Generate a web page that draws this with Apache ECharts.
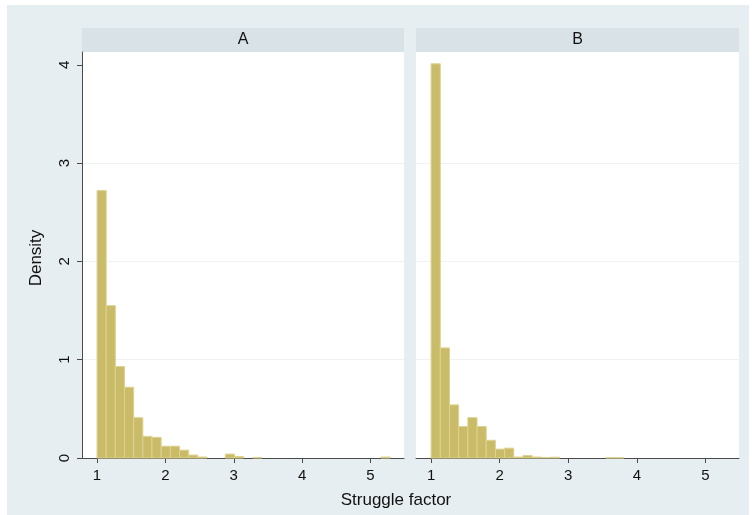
<!DOCTYPE html>
<html>
<head>
<meta charset="utf-8">
<script src="https://cdn.jsdelivr.net/npm/echarts@6/dist/echarts.min.js"></script>
<style>
html,body{margin:0;padding:0;background:#fff;}
#c{width:752px;height:515px;}
</style>
</head>
<body>
<div id="c"></div>
<script>
// ---- data ----
const panels = ['A', 'B'];
const binStart = 1.0;
const binWidth = 0.134;
const densityA = [2.72, 1.55, 0.93, 0.72, 0.41, 0.22, 0.21, 0.12, 0.12, 0.08, 0.03, 0.01, 0, 0, 0.04, 0.015, 0, 0.005, 0, 0, 0, 0, 0, 0, 0, 0, 0, 0, 0, 0, 0, 0.01];
const densityB = [4.01, 1.12, 0.54, 0.32, 0.41, 0.32, 0.18, 0.09, 0.10, 0.01, 0.025, 0.01, 0.005, 0.008, 0, 0, 0, 0, 0, 0.003, 0.003];
const xTicks = [1, 2, 3, 4, 5];
const yTicks = [0, 1, 2, 3, 4];
const xTitle = 'Struggle factor';
const yTitle = 'Density';

// ---- chart ----
const FONT = "'Liberation Sans', Arial, Helvetica, sans-serif";
const chart = echarts.init(document.getElementById('c'), null, {renderer: 'canvas'});

function toBins(vals) {
  return vals.map((v, i) => [binStart + i * binWidth, binStart + (i + 1) * binWidth, v]);
}

function renderItem(params, api) {
  const x0 = api.value(0), x1 = api.value(1), h = api.value(2);
  if (!h) return null;
  const p0 = api.coord([x0, h]);
  const p1 = api.coord([x1, 0]);
  return {
    type: 'rect',
    shape: {x: p0[0], y: p0[1], width: p1[0] - p0[0], height: p1[1] - p0[1]},
    style: {fill: '#c9bb68', stroke: '#ddd390', lineWidth: 1}
  };
}

const grids = [
  {left: 82, width: 322, top: 52, bottom: 57},
  {left: 416, width: 323, top: 52, bottom: 57}
];

const axisColor = '#4a4a4a';

const xAxes = grids.map((g, i) => ({
  type: 'value', gridIndex: i, min: 0.78, max: 5.49,
  axisLine: {show: true, lineStyle: {color: axisColor, width: 1}},
  axisTick: {show: true, customValues: xTicks, length: 5, lineStyle: {color: axisColor}},
  axisLabel: {show: true, customValues: xTicks, margin: 10, color: '#111', fontSize: 15, fontFamily: FONT},
  splitLine: {show: false}
}));

const yAxes = grids.map((g, i) => ({
  type: 'value', gridIndex: i, min: 0, max: 4.13, interval: 1,
  axisLine: {show: i === 0, lineStyle: {color: axisColor, width: 1}},
  axisTick: {show: i === 0, customValues: yTicks, length: 5, lineStyle: {color: axisColor}},
  axisLabel: {show: i === 0, customValues: yTicks, rotate: 90, margin: 10, color: '#111', fontSize: 15, fontFamily: FONT},
  splitLine: {show: true, showMinLine: false, showMaxLine: false, lineStyle: {color: '#eef2f4', width: 1}}
}));

const series = [densityA, densityB].map((vals, i) => ({
  type: 'custom', xAxisIndex: i, yAxisIndex: i,
  renderItem: renderItem,
  encode: {x: [0, 1], y: 2},
  data: toBins(vals)
}));

const graphic = [
  {type: 'rect', z: -10, silent: true, shape: {x: 7, y: 5, width: 742, height: 510}, style: {fill: '#e7eef1'}},
];
grids.forEach((g, i) => {
  graphic.push({type: 'rect', z: -5, silent: true, shape: {x: g.left, y: 52, width: g.width, height: 458 - 52}, style: {fill: '#ffffff'}});
  graphic.push({type: 'rect', silent: true, shape: {x: g.left, y: 28, width: g.width, height: 24}, style: {fill: '#d8e2e7'}});
  graphic.push({type: 'text', silent: true, x: g.left + g.width / 2, y: 40,
    style: {text: panels[i], fill: '#111', font: '16px ' + FONT, align: 'center', verticalAlign: 'middle'}});
});
graphic.push({type: 'text', silent: true, x: 396, y: 500,
  style: {text: xTitle, fill: '#111', font: '17px ' + FONT, align: 'center', verticalAlign: 'middle'}});
graphic.push({type: 'text', silent: true, x: 36, y: 258, rotation: Math.PI / 2,
  style: {text: yTitle, fill: '#111', font: '17px ' + FONT, align: 'center', verticalAlign: 'middle'}});

chart.setOption({
  animation: false,
  backgroundColor: '#ffffff',
  grid: grids,
  xAxis: xAxes,
  yAxis: yAxes,
  series: series,
  graphic: graphic
});
</script>
</body>
</html>
